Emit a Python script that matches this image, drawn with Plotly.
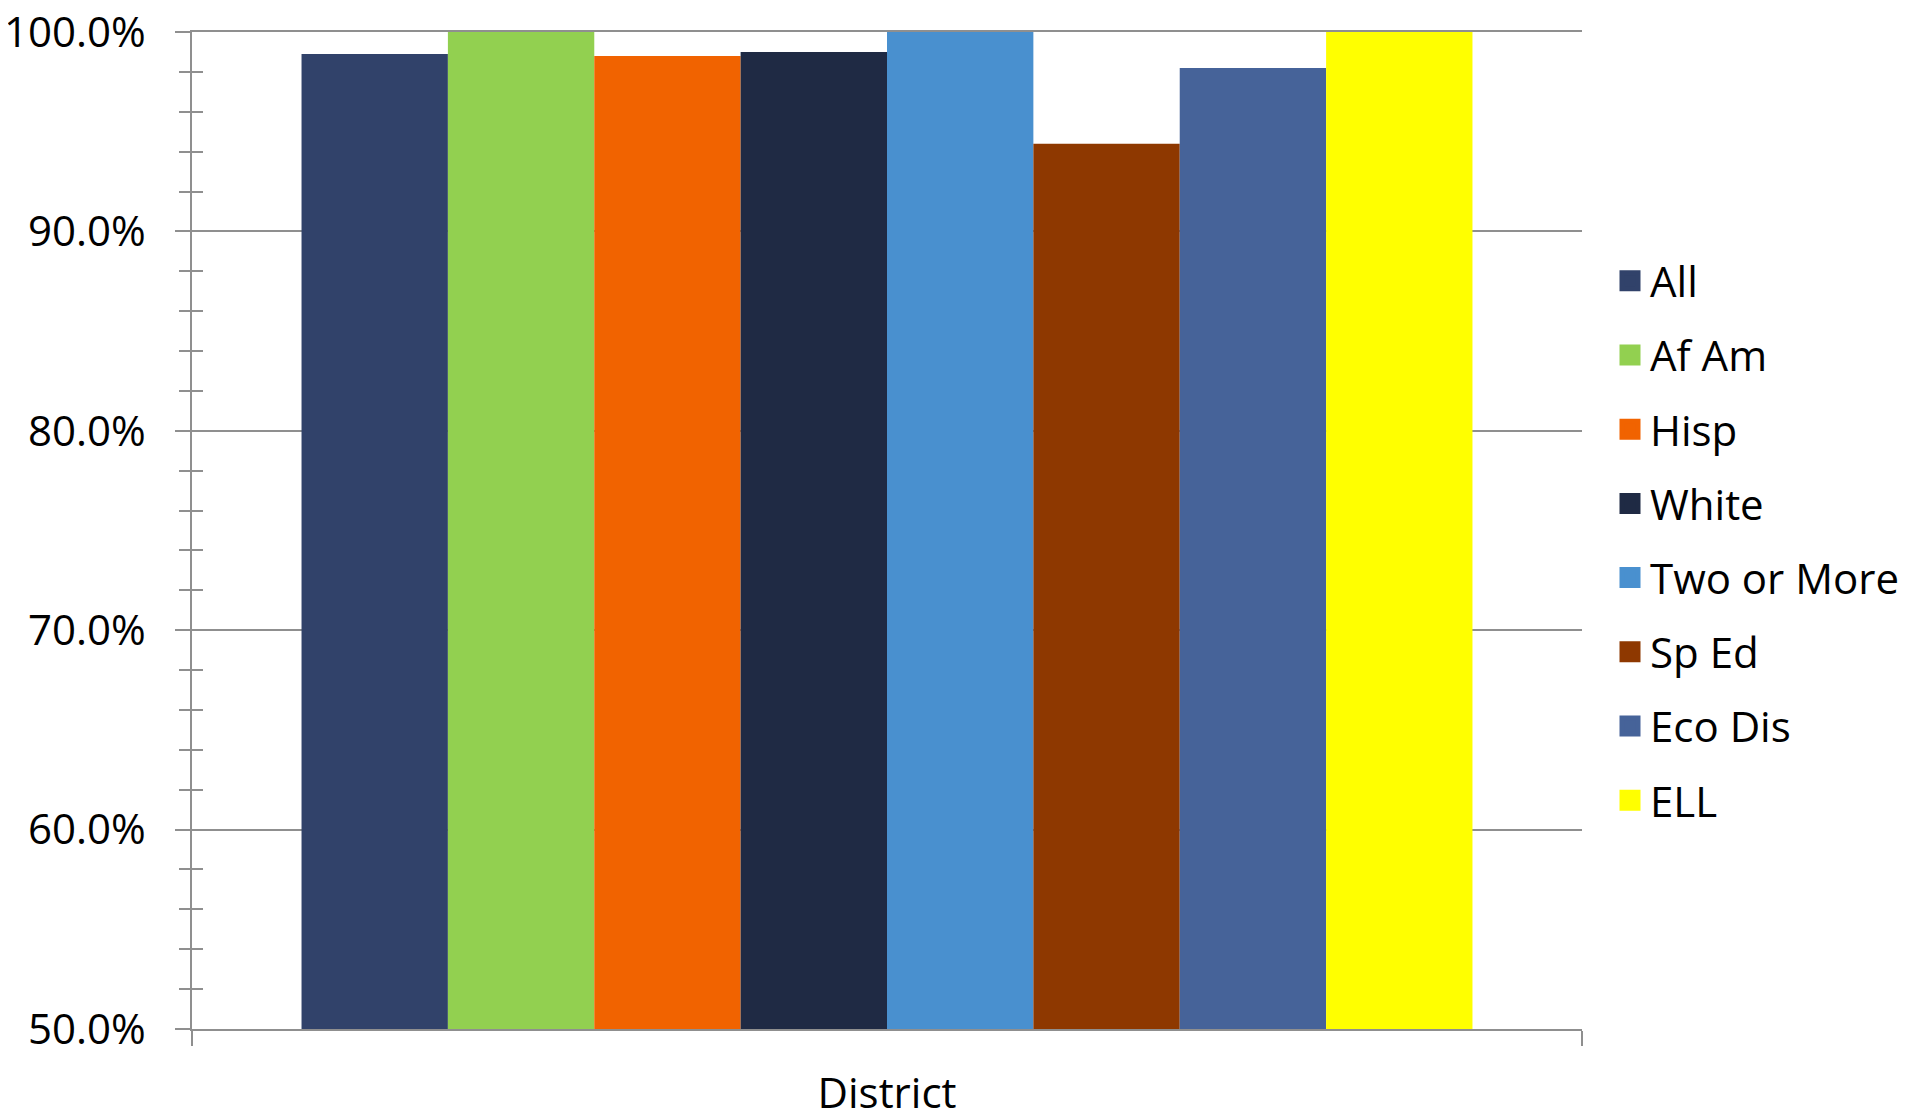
import plotly.graph_objects as go

categories = ["District"]
groups = ["All", "Af Am", "Hisp", "White", "Two or More", "Sp Ed", "Eco Dis", "ELL"]
values = [0.989, 1.000, 0.988, 0.990, 1.000, 0.944, 0.982, 1.000]
colors = ["#31426A", "#92D050", "#F16300", "#1F2A44", "#4990CF", "#8E3800", "#466399", "#FFFF00"]
y_ticks = [0.5, 0.6, 0.7, 0.8, 0.9, 1.0]

FONT = "Open Sans"
GRID = "#8F8F8F"

fig = go.Figure()
for g, v, c in zip(groups, values, colors):
    fig.add_trace(go.Bar(
        x=categories, y=[v], name=g, marker=dict(color=c, line=dict(width=0)),
        showlegend=False, yaxis="y",
    ))
# legend proxies (same series, larger swatches)
for g, c in zip(groups, colors):
    fig.add_trace(go.Scatter(
        x=categories, y=[None], name=g, mode="markers", legendgroup=g,
        marker=dict(symbol="square", size=16, color=c, line=dict(color=c, width=5)),
        showlegend=True, hoverinfo="skip",
    ))

fig.update_layout(
    width=1911, height=1117,
    margin=dict(l=184, r=337, t=24, b=96, autoexpand=False),
    paper_bgcolor="white", plot_bgcolor="white",
    barmode="group", bargap=0.1576, bargroupgap=0,
    font=dict(family=FONT, color="black"),
    legend=dict(
        xref="container", yref="container", x=1602 / 1911, y=1 - 239 / 1117,
        xanchor="left", yanchor="top", font=dict(family=FONT, size=42, color="black"),
        tracegroupgap=16.6, bgcolor="rgba(0,0,0,0)", itemclick=False, maxheight=1000,
    ),
    xaxis=dict(
        type="category", showline=True, linecolor=GRID, linewidth=1.5, mirror=True,
        ticks="outside", ticklen=15, tickcolor=GRID, tickwidth=1.5,
        tickson="boundaries", showgrid=False, ticklabelstandoff=27, automargin=False,
        ticklabeloverflow="allow",
        tickfont=dict(family=FONT, size=42, color="black"),
    ),
    yaxis=dict(
        range=[0.5, 1.0], tickvals=y_ticks, tickformat=".1%",
        showline=True, linecolor=GRID, linewidth=1.5,
        showgrid=True, gridcolor=GRID, gridwidth=1.5,
        ticks="outside", ticklen=15, tickcolor=GRID, tickwidth=1.5,
        ticklabelstandoff=21, zeroline=False, automargin=False,
        ticklabeloverflow="allow",
        tickfont=dict(family=FONT, size=42, color="black"),
        minor=dict(dtick=0.02, tick0=0.5, ticks="outside", ticklen=11,
                   tickcolor=GRID, tickwidth=1.5, showgrid=False),
    ),
    yaxis2=dict(
        range=[0.5, 1.0], overlaying="y", side="left", anchor="x",
        tickvals=y_ticks, showticklabels=False, showgrid=False, zeroline=False,
        showline=False, ticks="inside", ticklen=11, tickcolor=GRID, tickwidth=1.5,
        automargin=False, ticklabeloverflow="allow",
        minor=dict(dtick=0.02, tick0=0.5, ticks="inside", ticklen=11,
                   tickcolor=GRID, tickwidth=1.5, showgrid=False),
    ),
)
# invisible trace so yaxis2 is drawn
fig.add_trace(go.Scatter(x=categories, y=[None], yaxis="y2", showlegend=False,
                         mode="markers", hoverinfo="skip"))

fig.write_html("out.html")
